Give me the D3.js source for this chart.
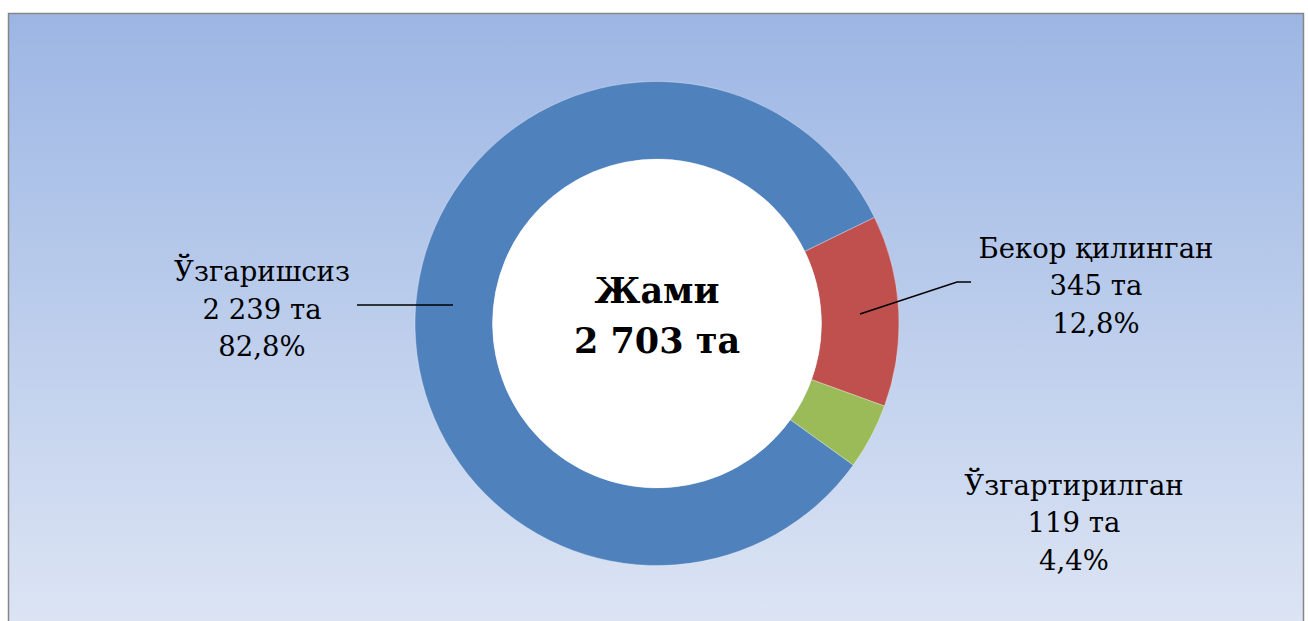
<!DOCTYPE html>
<html>
<head>
<meta charset="utf-8">
<script src="https://cdn.jsdelivr.net/npm/d3@7"></script>
<style>
  body { margin: 0; background: #fff; }
  svg { display: block; }
</style>
</head>
<body>
<svg id="chart" width="1308" height="621"></svg>
<script>
// data
var categories = ['Ўзгаришсиз', 'Бекор қилинган', 'Ўзгартирилган'];
var counts = [2239, 345, 119];
var countLabels = ['2 239 та', '345 та', '119 та'];
var percentLabels = ['82,8%', '12,8%', '4,4%'];
var colors = ['#4f81bd', '#c0504d', '#9bbb59'];
var totalLabel = ['Жами', '2 703 та'];

var W = 1308, H = 621;
var cx = 657, cy = 323.5, rOuter = 242, rInner = 164.5;

var svg = d3.select('#chart');

var defs = svg.append('defs');
var grad = defs.append('linearGradient')
  .attr('id', 'bg').attr('x1', 0).attr('y1', 0).attr('x2', 0).attr('y2', 1);
grad.append('stop').attr('offset', '0%').attr('stop-color', '#9cb6e4');
grad.append('stop').attr('offset', '100%').attr('stop-color', '#dde5f4');

svg.append('rect')
  .attr('x', 8.5).attr('y', 13.5)
  .attr('width', 1295).attr('height', 620)
  .attr('fill', 'url(#bg)')
  .attr('stroke', '#868686')
  .attr('stroke-width', 1.5);

var total = d3.sum(counts);
// blue slice ends at ~64deg from 12 o'clock
var endBlue = 64 * Math.PI / 180;
var start = endBlue - 2 * Math.PI * counts[0] / total;

var pie = d3.pie().sort(null).value(function(d){ return d; })
  .startAngle(start).endAngle(start + 2 * Math.PI);
var arcs = pie(counts);
var arc = d3.arc().innerRadius(rInner).outerRadius(rOuter);

var g = svg.append('g').attr('transform', 'translate(' + cx + ',' + cy + ')');

g.selectAll('path.slice')
  .data(arcs)
  .enter()
  .append('path')
  .attr('class', 'slice')
  .attr('d', arc)
  .attr('fill', function(d, i){ return colors[i]; })
  .attr('stroke', '#ffffff')
  .attr('stroke-opacity', 0.5)
  .attr('stroke-width', 0.6);

g.append('circle').attr('r', rInner).attr('fill', '#ffffff');

// center label
g.selectAll('text.total')
  .data(totalLabel)
  .enter()
  .append('text')
  .attr('class', 'total')
  .attr('x', 0)
  .attr('y', function(d, i){ return -21 + i * 50.5; })
  .attr('text-anchor', 'middle')
  .attr('font-family', 'DejaVu Serif')
  .attr('font-weight', 'bold')
  .attr('font-size', 35)
  .attr('fill', '#000')
  .text(function(d){ return d; });

// leader lines
var leaders = [
  [[357, 305], [453, 305]],
  [[860, 314], [957, 282], [971, 282]]
];
svg.selectAll('path.leader')
  .data(leaders)
  .enter()
  .append('path')
  .attr('class', 'leader')
  .attr('d', d3.line())
  .attr('fill', 'none')
  .attr('stroke', '#000')
  .attr('stroke-width', 1.5);

// data labels
var labelPos = [[262, 281], [1096, 257.5], [1074, 494.5]];
var lab = svg.selectAll('g.lab')
  .data(categories)
  .enter()
  .append('g')
  .attr('class', 'lab')
  .attr('transform', function(d, i){ return 'translate(' + labelPos[i][0] + ',' + labelPos[i][1] + ')'; });

lab.selectAll('text')
  .data(function(d, i){ return [d, countLabels[i], percentLabels[i]]; })
  .enter()
  .append('text')
  .attr('x', 0)
  .attr('y', function(d, j){ return j * 37.5; })
  .attr('text-anchor', 'middle')
  .attr('font-family', 'DejaVu Serif')
  .attr('font-size', 27.5)
  .attr('fill', '#000')
  .text(function(d){ return d; });
</script>
</body>
</html>
